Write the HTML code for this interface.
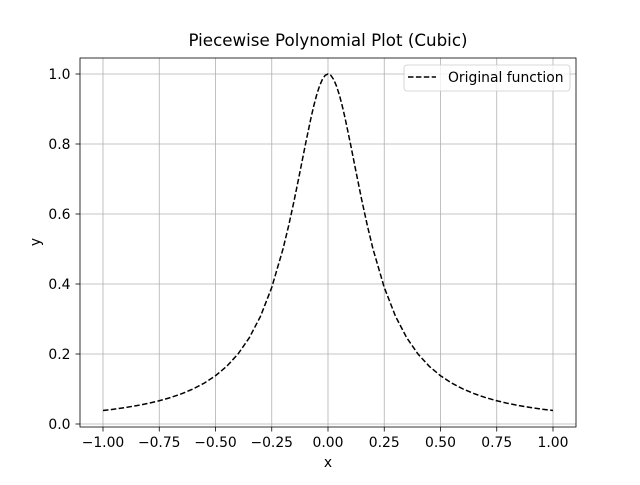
<!DOCTYPE html>
<html><head><meta charset="utf-8"><style>
body{margin:0;background:#fff}
svg text{font-family:"DejaVu Sans","Liberation Sans",sans-serif;fill:#000}
</style></head><body>
<svg id="chart" width="640" height="480" viewBox="0 0 640 480">
<rect width="640" height="480" fill="#fff"/>
<g id="grid"></g>
<g id="ticks"></g>
<path id="curve" fill="none" stroke="#000" stroke-width="1.5" stroke-dasharray="5.5,2.4"/>
<rect x="80" y="58" width="496" height="369" fill="none" stroke="#000" stroke-width="0.8"/>
<text x="328" y="46" font-size="16.7" text-anchor="middle">Piecewise Polynomial Plot (Cubic)</text>
<text x="328" y="467" font-size="13.9" text-anchor="middle">x</text>
<text x="40" y="242" font-size="13.9" text-anchor="middle" transform="rotate(-90 40 242)">y</text>
<g>
<rect x="404" y="65" width="166" height="26" rx="3" fill="#fff" fill-opacity="0.8" stroke="#ccc" stroke-width="0.8"/>
<line x1="408" y1="77" x2="436" y2="77" stroke="#000" stroke-width="1.5" stroke-dasharray="5.5,2.4"/>
<text x="448" y="82" font-size="13.9">Original function</text>
</g>
</svg>
<script>
const xVals=[-1,-0.95,-0.9,-0.85,-0.8,-0.75,-0.7,-0.65,-0.6,-0.55,-0.5,-0.45,-0.4,-0.35,-0.3,-0.25,-0.2,-0.175,-0.15,-0.125,-0.1,-0.075,-0.0625,-0.05,-0.0375,-0.025,-0.0125,0,0.0125,0.025,0.0375,0.05,0.0625,0.075,0.1,0.125,0.15,0.175,0.2,0.25,0.3,0.35,0.4,0.45,0.5,0.55,0.6,0.65,0.7,0.75,0.8,0.85,0.9,0.95,1];
const yVals=[0.0385,0.0424,0.0471,0.0525,0.0588,0.0664,0.0755,0.0865,0.1,0.1168,0.1379,0.1649,0.2,0.2462,0.3077,0.3902,0.5,0.5664,0.64,0.7191,0.8,0.8767,0.911,0.9412,0.966,0.9846,0.9961,1,0.9961,0.9846,0.966,0.9412,0.911,0.8767,0.8,0.7191,0.64,0.5664,0.5,0.3902,0.3077,0.2462,0.2,0.1649,0.1379,0.1168,0.1,0.0865,0.0755,0.0664,0.0588,0.0525,0.0471,0.0424,0.0385];
const xTicks=[-1,-0.75,-0.5,-0.25,0,0.25,0.5,0.75,1];
const xTickLabels=["−1.00","−0.75","−0.50","−0.25","0.00","0.25","0.50","0.75","1.00"];
const yTicks=[0,0.2,0.4,0.6,0.8,1];
const yTickLabels=["0.0","0.2","0.4","0.6","0.8","1.0"];
const NS="http://www.w3.org/2000/svg";
const sx=v=>328+v*225, sy=v=>424-v*350;
const grid=document.getElementById('grid'), ticks=document.getElementById('ticks');
function mk(tag,attrs,parent){const e=document.createElementNS(NS,tag);for(const k in attrs)e.setAttribute(k,attrs[k]);parent.appendChild(e);return e;}
xTicks.forEach((t,i)=>{
 const g=mk('line',{x1:sx(t),x2:sx(t),y1:58,y2:427,stroke:'#b0b0b0','stroke-width':0.8},grid);
 
 
 mk('line',{x1:sx(t),x2:sx(t),y1:427,y2:431.5,stroke:'#000','stroke-width':0.8},ticks);
 const tx=mk('text',{x:sx(t),y:447,'font-size':13.9,'text-anchor':'middle'},ticks);
 tx.textContent=xTickLabels[i];
 
 
});
yTicks.forEach((t,i)=>{
 const g=mk('line',{x1:80,x2:576,y1:sy(t),y2:sy(t),stroke:'#b0b0b0','stroke-width':0.8},grid);
 
 
 mk('line',{x1:75.5,x2:80,y1:sy(t),y2:sy(t),stroke:'#000','stroke-width':0.8},ticks);
 const tx=mk('text',{x:70.5,y:sy(t)+5,'font-size':13.9,'text-anchor':'end'},ticks);
 tx.textContent=yTickLabels[i];
 
 
});
let d='';
xVals.forEach((x,i)=>{d+=(i?'L':'M')+sx(x).toFixed(2)+','+sy(yVals[i]).toFixed(2);});
document.getElementById('curve').setAttribute('d',d);
</script>
</body></html>
